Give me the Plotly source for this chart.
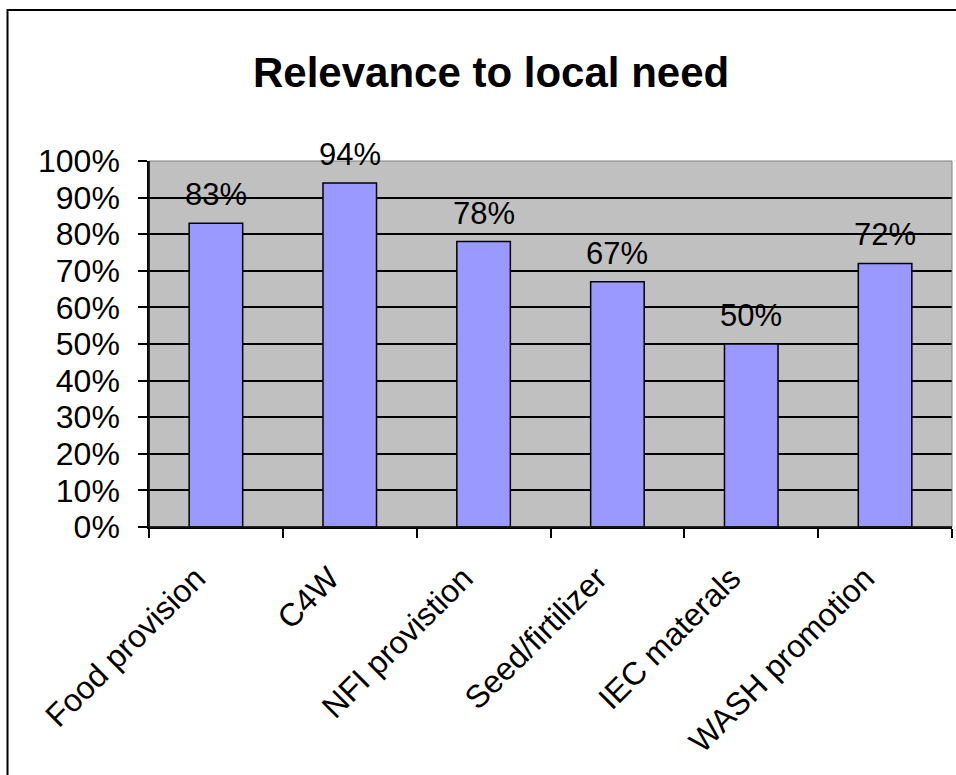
import plotly.graph_objects as go

categories = ["Food provision", "C4W", "NFI provistion", "Seed/firtilizer", "IEC materals", "WASH promotion"]
values = [0.83, 0.94, 0.78, 0.67, 0.50, 0.72]
labels = ["83%", "94%", "78%", "67%", "50%", "72%"]
title_text = "Relevance to local need"

FONT = "Liberation Sans, Arial, sans-serif"

fig = go.Figure()
fig.add_trace(go.Bar(
    x=categories, y=values,
    marker=dict(color="#9999FF", line=dict(color="black", width=1.5)),
    width=0.4,
    hoverinfo="skip",
))

for c, v, t in zip(categories, values, labels):
    fig.add_annotation(x=c, y=v, text=t, showarrow=False, yanchor="bottom",
                       yshift=9, font=dict(family=FONT, size=31, color="black"))

# plot area border (grey) and outer chart border
fig.add_shape(type="rect", xref="x domain", yref="y domain", x0=0, x1=1, y0=0, y1=1,
              line=dict(color="#808080", width=1), layer="above")
fig.add_shape(type="rect", xref="paper", yref="paper",
              x0=(7.5 - 149) / 803, x1=1.2, y0=-1.5, y1=(527 - 10) / 366,
              line=dict(color="black", width=2), layer="above")
# redraw axis lines on top
fig.add_shape(type="line", xref="x domain", yref="y domain", x0=0, x1=1, y0=0, y1=0,
              line=dict(color="black", width=1.5), layer="above")
fig.add_shape(type="line", xref="x domain", yref="y domain", x0=0, x1=0, y0=0, y1=1,
              line=dict(color="black", width=1.5), layer="above")

fig.add_annotation(xref="paper", yref="paper", x=(490.5 - 149) / 803, y=(527 - 72) / 366,
                   text="<b>" + title_text + "</b>", showarrow=False,
                   xanchor="center", yanchor="middle",
                   font=dict(family=FONT, size=42, color="black"))

fig.update_layout(
    width=956, height=775,
    margin=dict(l=149, r=4, t=161, b=248),
    paper_bgcolor="white", plot_bgcolor="#C0C0C0",
    showlegend=False,
    bargap=0.6,
    font=dict(family=FONT, size=32, color="black"),
)
fig.update_xaxes(
    type="category", tickangle=-45, tickson="boundaries",
    ticks="outside", ticklen=9, tickwidth=1.5, tickcolor="black",
    showline=True, linecolor="black", linewidth=1.5,
    showgrid=False, tickfont=dict(family=FONT, size=32, color="black"),
    ticklabelstandoff=18, ticklabelshift=-20,
)
fig.update_yaxes(
    range=[0, 1.0], dtick=0.1, tickformat=".0%",
    ticks="outside", ticklen=9, tickwidth=1.5, tickcolor="black",
    showline=True, linecolor="black", linewidth=1.5,
    showgrid=True, gridcolor="black", gridwidth=1.5, zeroline=False,
    tickfont=dict(family=FONT, size=32, color="black"),
    ticklabelstandoff=12,
)

fig.write_html("out.html")
